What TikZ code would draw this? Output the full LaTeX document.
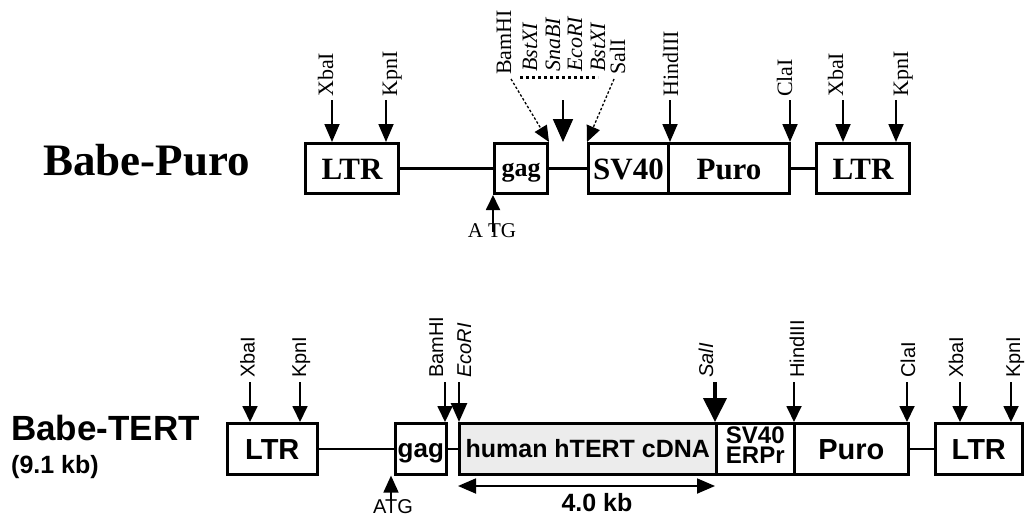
\documentclass[tikz,border=0pt]{standalone}
\usepackage{fontspec}
\setmainfont{Liberation Serif}
\setsansfont{Liberation Sans}
\usetikzlibrary{arrows.meta}
\tikzset{
  boxT/.style={draw, line width=3pt, inner sep=0pt, minimum height=50pt, anchor=north west,
    text height=22pt, text depth=0pt, font=\bfseries\fontsize{31}{31}\selectfont},
  boxB/.style={draw, line width=2.6pt, inner sep=0pt, minimum height=51pt, anchor=north west,
    text height=21pt, text depth=0pt, font=\sffamily\bfseries\fontsize{29}{29}\selectfont},
  svtext/.style={anchor=base, inner sep=0pt, font=\sffamily\bfseries\fontsize{24}{24}\selectfont},
  lblT/.style={rotate=90, anchor=base west, inner sep=0pt, font=\fontsize{22}{22}\selectfont},
  lblTi/.style={lblT, font=\itshape\fontsize{22}{22}\selectfont},
  lblB/.style={rotate=90, anchor=base west, inner sep=0pt, font=\sffamily\fontsize{20}{20}\selectfont},
  lblBi/.style={lblB, font=\sffamily\itshape\fontsize{20}{20}\selectfont},
  cutT/.style={line width=1.8pt, -{Triangle[width=15pt,length=18pt]}},
  cutB/.style={line width=1.8pt, -{Triangle[width=15pt,length=16pt]}},
  dashcut/.style={line width=1.3pt, dash pattern=on 2.5pt off 2pt, -{Triangle[width=14pt,length=16pt]}},
  bbT/.style={line width=3pt},
  bbB/.style={line width=2.6pt},
}
\definecolor{cdnagray}{RGB}{236,236,236}
\begin{document}
\begin{tikzpicture}[x=1pt,y=-1pt]
\useasboundingbox (0,0) rectangle (1025,517);

% ---------------- Babe-Puro ----------------
\node[anchor=base west, inner sep=0pt, font=\bfseries\fontsize{45}{45}\selectfont] (bp) at (43,175) {Babe-Puro};

\node[boxT, minimum width=93pt] (ltr1) at (304,142) {LTR};
\node[boxT, minimum width=53pt, text height=16pt, font=\bfseries\fontsize{26}{26}\selectfont] (gag1) at (493,142) {gag};
\node[boxT, minimum width=80pt] (sv1) at (587,142) {SV40};
\node[boxT, minimum width=121pt] (puro1) at (667,142) {Puro};
\node[boxT, minimum width=93pt] (ltr1b) at (815,142) {LTR};

\draw[bbT] (ltr1.east) -- (gag1.west);
\draw[bbT] (gag1.east) -- (sv1.west);
\draw[bbT] (puro1.east) -- (ltr1b.west);

% labels
\node[lblT] (tl1) at (333,97) {XbaI};
\node[lblT] (tl2) at (397,97) {KpnI};
\node[lblT] (tl3) at (511,75) {BamHI};
\node[lblTi] (tl4) at (537,72) {BstXI};
\node[lblTi] (tl5) at (560,72) {SnaBI};
\node[lblTi] (tl6) at (582,72) {EcoRI};
\node[lblTi] (tl7) at (605,72) {BstXI};
\node[lblT] (tl8) at (625,75) {SalI};
\node[lblT] (tl9) at (678,97) {HindIII};
\node[lblT] (tl10) at (792,97) {ClaI};
\node[lblT] (tl11) at (843,97) {XbaI};
\node[lblT] (tl12) at (908,97) {KpnI};

\coordinate (dl) at (520,77);
\coordinate (dr) at (598,77);
\draw[line width=3pt, dash pattern=on 3pt off 3pt] (dl) -- (dr);

\coordinate (t1) at (332,100);
\coordinate (t2) at (386,100);
\coordinate (t9) at (670,100);
\coordinate (t10) at (790,100);
\coordinate (t11) at (843,100);
\coordinate (t12) at (896,100);
\draw[cutT] (t1) -- (t1 |- ltr1.north);
\draw[cutT] (t2) -- (t2 |- ltr1.north);
\draw[cutT] (t9) -- (t9 |- puro1.north);
\draw[cutT] (t10) -- (t10 |- puro1.north);
\draw[cutT] (t11) -- (t11 |- ltr1b.north);
\draw[cutT] (t12) -- (t12 |- ltr1b.north);

\coordinate (tb) at (511,79);
\coordinate (ts) at (614,79);
\draw[dashcut] (tb) -- (gag1.north east);
\draw[dashcut] (ts) -- (sv1.north west);

\coordinate (tm) at (563,100);
\coordinate (tmend) at (563,142);
\draw[line width=1.8pt, -{Triangle[width=20pt,length=23pt]}] (tm) -- (tmend);

\node[anchor=base, inner sep=0pt, font=\fontsize{21}{21}\selectfont] (atg1) at (492,237) {A\kern5pt TG};
\coordinate (a1) at (493,232);
\draw[line width=1.8pt, -{Triangle[width=14pt,length=15pt]}] (a1) -- (a1 |- gag1.south);

% ---------------- Babe-TERT ----------------
\node[anchor=base west, inner sep=0pt, font=\sffamily\bfseries\fontsize{35}{35}\selectfont] (bt) at (11,440) {Babe-TERT};
\node[anchor=base west, inner sep=0pt, font=\sffamily\bfseries\fontsize{25}{25}\selectfont] (btsize) at (11,473) {(9.1 kb)};

\node[boxB, minimum width=90pt] (ltr2) at (226,422) {LTR};
\node[boxB, minimum width=51pt, text height=18pt, font=\sffamily\bfseries\fontsize{26}{26}\selectfont] (gag2) at (394,422) {gag};
\node[boxB, minimum width=257pt, text height=18pt, fill=cdnagray, font=\sffamily\bfseries\fontsize{25}{25}\selectfont] (hum) at (458,422) {human hTERT cDNA};
\node[boxB, minimum width=78pt] (sv2) at (715,422) {};
\node[svtext] (sv2a) at ([yshift=-21pt]sv2.north) {SV40};
\node[svtext] (sv2b) at ([yshift=-41pt]sv2.north) {ERPr};
\node[boxB, minimum width=114pt] (puro2) at (793,422) {Puro};
\node[boxB, minimum width=87pt] (ltr2b) at (934,422) {LTR};

\draw[bbB] (ltr2.east) -- (gag2.west);
\draw[bbB] (gag2.east) -- (hum.west);
\draw[bbB] (puro2.east) -- (ltr2b.west);

\node[lblB] (bl1) at (254.5,378) {XbaI};
\node[lblB] (bl2) at (306,378) {KpnI};
\node[lblB] (bl3) at (443,378) {BamHI};
\node[lblBi] (bl4) at (471,378) {EcoRI};
\node[lblBi] (bl5) at (713,378) {SalI};
\node[lblB] (bl6) at (804,378) {HindIII};
\node[lblB] (bl7) at (915,378) {ClaI};
\node[lblB] (bl8) at (963,378) {XbaI};
\node[lblB] (bl9) at (1020,378) {KpnI};

\coordinate (b1) at (250,382);
\coordinate (b2) at (300,382);
\coordinate (b3) at (445,382);
\coordinate (b4) at (459,382);
\coordinate (b5) at (715,382);
\coordinate (b6) at (794,382);
\coordinate (b7) at (907,382);
\coordinate (b8) at (960,382);
\coordinate (b9) at (1011,382);
\draw[cutB] (b1) -- (b1 |- ltr2.north);
\draw[cutB] (b2) -- (b2 |- ltr2.north);
\draw[cutB] (b3) -- (b3 |- gag2.north);
\draw[line width=2.6pt, -{Triangle[width=16pt,length=19pt]}] (b4) -- (b4 |- hum.north);
\draw[line width=4pt, -{Triangle[width=23pt,length=24pt]}] (b5) -- (b5 |- hum.north);
\draw[cutB] (b6) -- (b6 |- puro2.north);
\draw[cutB] (b7) -- (b7 |- puro2.north);
\draw[cutB] (b8) -- (b8 |- ltr2b.north);
\draw[cutB] (b9) -- (b9 |- ltr2b.north);

\coordinate (kbl) at (458,486);
\coordinate (kbr) at (715,486);
\draw[line width=1.8pt, {Triangle[width=15pt,length=18pt]}-{Triangle[width=15pt,length=18pt]}] (kbl) -- (kbr);
\node[anchor=base, inner sep=0pt, font=\sffamily\bfseries\fontsize{25}{25}\selectfont] (kb) at (597,511) {4.0 kb};

\node[anchor=base, inner sep=0pt, font=\sffamily\fontsize{20}{20}\selectfont] (atg2) at (393,513) {ATG};
\coordinate (a2) at (391,500);
\draw[line width=1.8pt, -{Triangle[width=15pt,length=17pt]}] (a2) -- (a2 |- gag2.south);
\end{tikzpicture}
\end{document}
